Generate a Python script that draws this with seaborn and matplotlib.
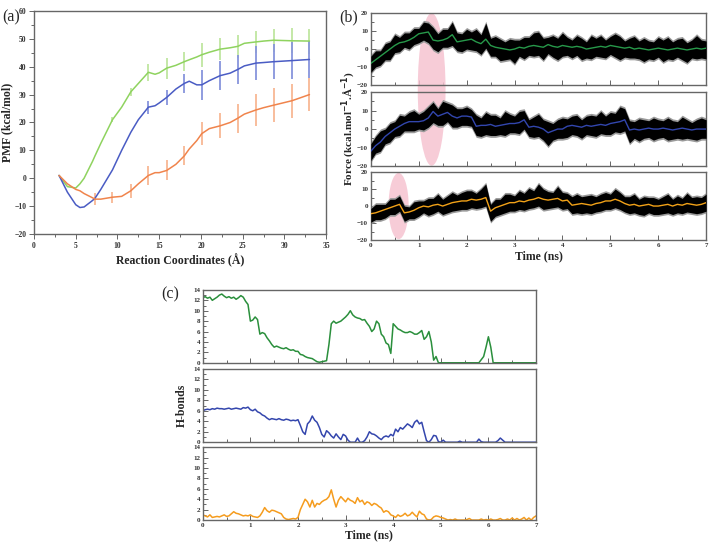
import numpy as np
import pandas as pd
import matplotlib
matplotlib.use("Agg")
import matplotlib.pyplot as plt
from matplotlib.patches import Ellipse
from matplotlib.ticker import MultipleLocator
import seaborn as sns

# ---- (a) PMF along the reaction coordinate
rc = [3, 4, 5, 5.5, 6, 7, 7.3, 8, 9.4, 10.5, 11.6, 12.5, 13.7, 14.5, 15, 15.9,
      17, 18, 18.6, 19.5, 20.1, 21, 22.3, 23.5, 24.4, 25.2, 26.6, 27.5, 28.7,
      30.9, 33]
pmf_green = [1, -3, -3.5, -2, 0, 6, 8, 12.5, 21, 25.5, 31, 34, 38, 37.3, 37.8,
             39.5, 40.5, 41.8, 42.5, 43.5, 44.3, 45.2, 46.3, 46.8, 47.3, 48.4,
             48.9, 49.2, 49.5, 49.3, 49.2]
pmf_blue = [1, -5, -9.5, -10.5, -10.3, -8, -7.2, -4, 3, 10, 16.5, 21, 25.5, 26,
            27, 29, 32, 34, 34.8, 33.5, 33.5, 35, 36.8, 37.7, 39, 40.3, 41.3,
            41.5, 41.8, 42.2, 42.6]
pmf_orange = [1, -2, -4, -4.5, -5.5, -7, -7.5, -7.5, -6.8, -6.5, -4.5, -2, 1, 2,
              2, 2.8, 5, 8, 10.5, 13.5, 16, 17.8, 18.8, 20, 21.5, 23, 24.5, 25.3,
              26.2, 27.8, 30]
nan = np.nan
err_green = [nan, nan, nan, nan, nan, nan, nan, nan, 1.0, nan, 1.5, nan, 3.0,
             nan, nan, 3.8, nan, 3.5, nan, nan, 4.3, nan, 4.0, nan, 4.0, nan,
             3.8, nan, 4.2, 4.5, 4.5]
err_blue = [nan, nan, nan, nan, nan, nan, nan, nan, nan, nan, nan, nan, 2.3,
            nan, nan, 2.8, nan, 3.5, nan, nan, 5.5, nan, 5.3, nan, 5.2, nan,
            6.0, nan, 6.3, 6.7, 6.8]
err_orange = [nan, nan, nan, nan, nan, nan, 2.2, nan, 2.0, nan, 2.5, nan, 3.3,
              nan, nan, 3.6, nan, 3.4, nan, nan, 4.0, nan, 4.5, nan, 5.2, nan,
              5.6, nan, 6.2, 6.1, 6.0]

# ---- (b) force traces, 0.1 ns grid (smoothed line, raw signal spread above / below)
force_green = [-8, -6, -4, -2, 0, 2, 3.5, 4, 5, 6.5,
               8.5, 9, 9.5, 5, 4.5, 5, 6, 8, 4, 4.5,
               5, 5.5, 4, 3, 5.5, 2, 1, 0.5, 0, -0.5,
               0, 1, 0.5, 1.5, 2, 1.5, 1, 2.5, 1.5, 1,
               2, 1.5, 1, 1.5, 1, 0, 0.5, 1, 1.5, 1,
               2, 1.5, 1, 0.5, 1, 0, 0.5, 0, -0.5, 0,
               0.5, 0, -0.5, 0, 0.5, 0, -0.5, 0, 0.5, 0,
               0.5]
up_green = [4, 5, 3, 5, 4, 6, 3, 5, 4, 5,
            3, 6, 5, 7, 4, 6, 5, 7, 5, 4,
            6, 4, 7, 5, 9, 4, 6, 5, 4, 6,
            5, 4, 6, 5, 7, 8, 5, 4, 6, 5,
            7, 5, 4, 6, 5, 4, 7, 5, 6, 4,
            5, 7, 6, 4, 5, 7, 4, 6, 5, 4,
            6, 5, 7, 4, 5, 6, 4, 5, 7, 5,
            4]
lo_green = [5, 4, 5, 4, 6, 4, 5, 3, 5, 4,
            5, 4, 6, 5, 6, 4, 5, 6, 5, 6,
            5, 6, 5, 6, 5, 6, 5, 7, 6, 5,
            8, 5, 6, 5, 6, 5, 7, 5, 6, 7,
            6, 5, 6, 5, 7, 5, 6, 5, 6, 6,
            5, 6, 7, 5, 6, 5, 6, 7, 5, 6,
            5, 7, 5, 6, 5, 6, 7, 5, 6, 5,
            6]
force_blue = [-12, -9, -7, -4, -2, 0, 1.5, 3, 4, 4,
              4, 4.5, 6, 9.5, 7, 8, 9, 7, 6, 7,
              7, 6.5, 1.5, 2, 2, 2.5, 1.5, 2, 2.5, 3,
              3, 3.5, 5, 1, 1.5, 1, 0, -2, -1, 0,
              0, 1.5, 2, 1.5, 1, 2, 1.5, 2, 2.5, 2,
              3, 3.5, 4, 5, -0.5, 0, -0.5, 0, 0.5, 0,
              0, 0.5, 0, -0.5, 0, 0.5, 0, -0.5, 0, 0,
              0]
up_blue = [4, 5, 6, 4, 5, 4, 6, 4, 5, 6,
           4, 5, 6, 5, 4, 7, 5, 6, 5, 4,
           5, 4, 6, 4, 7, 5, 6, 4, 7, 5,
           4, 6, 5, 4, 5, 7, 5, 6, 4, 5,
           6, 4, 5, 6, 4, 5, 6, 5, 7, 5,
           6, 5, 8, 6, 5, 4, 6, 5, 4, 6,
           5, 4, 6, 5, 4, 6, 5, 4, 5, 6,
           5]
lo_blue = [5, 4, 5, 4, 5, 4, 5, 4, 5, 5,
           4, 5, 5, 6, 5, 6, 5, 6, 5, 5,
           5, 5, 5, 6, 5, 6, 5, 5, 6, 5,
           5, 6, 5, 5, 6, 5, 6, 7, 5, 5,
           5, 6, 5, 5, 6, 5, 5, 6, 5, 5,
           6, 5, 6, 6, 7, 5, 6, 5, 5, 6,
           5, 5, 6, 5, 5, 6, 5, 5, 6, 5,
           5]
force_orange = [-4.5, -4, -3, -2, -1, 0, 1, -4, -3.5, -2.5,
                -1, 0, -0.5, 0.5, 1, 0, 1, 2, 2.5, 3,
                3, 4, 3.5, 4, 5, -3, -1, 0, 1, 2,
                2, 3, 2.5, 3.5, 4, 5, 4, 3.5, 4, 4.5,
                3, 3.5, 0.5, 1, 1.5, 1, 0.5, 1.5, 2, 3,
                3, 4, 3, 1.5, 0.5, 1, 0, 0.5, 1, 0,
                0, 0.5, 1, 0, 1, 0.5, 1.5, 1, 0.5, 1,
                2]
up_orange = [3, 5, 4, 3, 5, 4, 5, 4, 3, 5,
             4, 3, 5, 4, 6, 4, 5, 6, 4, 5,
             6, 5, 4, 6, 8, 4, 5, 4, 6, 5,
             4, 6, 5, 7, 5, 8, 6, 5, 4, 7,
             5, 4, 5, 6, 4, 5, 6, 4, 5, 5,
             4, 6, 5, 4, 5, 6, 4, 5, 4, 5,
             4, 5, 6, 4, 5, 4, 6, 4, 5, 4,
             5]
lo_orange = [5, 4, 5, 5, 4, 5, 4, 5, 4, 5,
             5, 4, 5, 5, 4, 5, 5, 5, 5, 5,
             5, 5, 5, 5, 5, 6, 5, 5, 5, 5,
             5, 5, 5, 5, 5, 5, 6, 5, 5, 5,
             5, 5, 5, 5, 6, 5, 5, 5, 5, 5,
             5, 5, 5, 5, 5, 5, 5, 6, 5, 5,
             5, 5, 5, 5, 5, 5, 5, 5, 5, 5,
             5]

# ---- (c) H-bond counts, 0.05 ns grid
hb_green = [12.5, 12.7, 12.4, 12.6, 12.0, 12.3, 12.6, 13.0, 13.2, 12.8, 12.5, 12.7, 12.4, 12.6, 12.2, 12.5, 12.9, 12.6, 11.8, 11.2,
            8.0, 8.2, 8.8, 8.3, 5.5, 5.8, 5.6, 4.8, 4.2, 3.5, 3.0, 3.2, 3.0, 2.8, 2.7, 2.9, 2.6, 2.4, 2.5, 2.2,
            2.2, 1.6, 1.5, 1.2, 1.0, 0.9, 0.8, 0.5, 0.2, 0.1, 0.2, 0.3, 0.4, 3.5, 7.5, 8.0, 7.6, 7.8, 8.0, 8.4,
            8.8, 9.3, 10.0, 9.2, 8.8, 8.6, 8.5, 8.2, 8.3, 7.6, 7.0, 6.0, 6.5, 8.0, 7.5, 5.5, 5.0, 3.8, 3.5, 1.8,
            7.5, 7.0, 6.5, 6.3, 6.0, 5.8, 5.8, 6.0, 5.8, 5.5, 5.5, 5.8, 6.2, 4.5, 5.0, 6.0, 4.0, 0.5, 1.2, 0.0,
            0.0, 0.0, 0.0, 0.0, 0.0, 0.0, 0.0, 0.0, 0.0, 0.0, 0.0, 0.0, 0.0, 0.0, 0.0, 0.0, 0.0, 0.6, 1.2, 3.0,
            5.0, 3.0, 0.0, 0.0, 0.0, 0.0, 0.0, 0.0, 0.0, 0.0, 0.0, 0.0, 0.0, 0.0, 0.0, 0.0, 0.0, 0.0, 0.0, 0.0,
            0.0]
hb_blue = [6.0, 6.2, 6.3, 6.2, 6.4, 6.3, 6.5, 6.4, 6.4, 6.3, 6.4, 6.5, 6.3, 6.4, 6.5, 6.4, 6.3, 6.6, 6.5, 6.7,
           6.2, 6.0, 6.3, 5.8, 5.6, 5.2, 5.0, 4.6, 4.3, 4.5, 4.4, 4.3, 4.5, 4.3, 4.2, 4.4, 4.3, 4.1, 4.2, 4.1,
           4.3, 3.2, 2.0, 1.5, 3.5, 4.0, 5.0, 4.2, 3.8, 2.8, 1.5, 1.0, 2.2, 1.8, 1.2, 0.8, 1.6, 1.0, 0.5, 1.5,
           1.2, 0.4, 0.0, 0.0, 0.0, 0.8, 0.0, 0.0, 0.3, 1.0, 2.0, 1.6, 1.5, 1.2, 0.8, 0.5, 1.0, 1.2, 1.0, 1.5,
           1.2, 2.5, 2.0, 2.8, 2.5, 3.0, 3.5, 3.2, 2.8, 3.8, 4.2, 3.5, 3.8, 2.0, 0.3, 0.0, 0.5, 1.3, 1.2, 0.1,
           0.0, 0.4, 0.0, 0.0, 0.0, 0.0, 0.0, 0.0, 0.2, 0.0, 0.0, 0.0, 0.0, 0.0, 0.0, 0.0, 0.6, 0.1, 0.0, 0.0,
           0.0, 0.0, 0.0, 0.0, 0.3, 0.8, 0.4, 0.0, 0.0, 0.0, 0.0, 0.0, 0.0, 0.0, 0.0, 0.0, 0.0, 0.0, 0.0, 0.0,
           0.0]
hb_orange = [1.0, 0.8, 0.6, 1.0, 0.5, 0.6, 0.7, 0.6, 0.8, 1.0, 0.7, 0.8, 1.2, 1.6, 1.3, 1.2, 1.0, 0.8, 0.9, 0.8,
             1.0, 0.7, 0.6, 0.5, 0.8, 1.5, 2.4, 1.8, 1.5, 1.9, 1.8, 1.6, 1.4, 1.2, 0.5, 0.2, 0.1, 0.2, 0.3, 0.2,
             0.5, 2.0, 3.0, 4.0, 3.5, 2.5, 3.8, 2.5, 3.2, 3.0, 3.5, 3.8, 4.0, 4.5, 5.8, 4.0, 2.5, 3.8, 4.5, 4.0,
             3.5, 4.2, 3.8, 3.6, 3.2, 4.3, 3.5, 3.8, 3.0, 3.5, 3.3, 2.8, 3.2, 3.0, 2.6, 2.3, 1.5, 1.8, 1.6, 1.0,
             0.8, 0.5, 1.0, 0.7, 0.9, 1.3, 0.8, 1.0, 1.5, 1.0, 0.6, 1.7, 1.2, 1.0, 0.2, 0.0, 0.1, 0.6, 0.8, 0.7,
             0.5, 0.4, 0.2, 0.0, 0.1, 0.0, 0.2, 0.0, 0.0, 0.0, 0.0, 0.1, 0.3, 0.0, 0.0, 0.0, 0.0, 0.2, 0.0, 0.1,
             0.0, 0.2, 0.0, 0.0, 0.1, 0.3, 0.0, 0.0, 0.2, 0.0, 0.4, 0.0, 0.3, 0.0, 0.2, 0.5, 0.0, 0.4, 0.0, 0.5,
             0.8]

t_force = np.round(np.arange(len(force_green)) * 0.1, 2)
t_hb = np.round(np.arange(len(hb_green)) * 0.05, 2)

sns.set_theme(style="ticks")
plt.rcParams["font.family"] = ["Liberation Serif", "DejaVu Serif"]
plt.rcParams["mathtext.default"] = "bf"
plt.rcParams["axes.edgecolor"] = "#666666"
plt.rcParams["axes.linewidth"] = 1.0

fig = plt.figure(figsize=(7.09, 5.48), dpi=100)

LABEL_FS = 8.5


def style_ticks(ax, direction, size=5.5):
    ax.tick_params(which="both", direction=direction, color="#666666", width=0.7,
                   labelsize=size, labelcolor="#333333", pad=2)
    ax.tick_params(which="major", length=3.5)
    ax.tick_params(which="minor", length=2)
    for lab in ax.get_xticklabels() + ax.get_yticklabels():
        lab.set_fontweight("bold")


# ---------------- (a)
ax_a = fig.add_axes([0.048, 0.573, 0.412, 0.407])
pmf_df = pd.DataFrame({"rc": rc * 3,
                       "pmf": pmf_green + pmf_blue + pmf_orange,
                       "sys": ["g"] * len(rc) + ["b"] * len(rc) + ["o"] * len(rc)})
line_cols = {"g": "#8fd35f", "b": "#4a5cc4", "o": "#f0844c"}
bar_cols = {"g": "#bfe6a0", "b": "#8794dc", "o": "#f8b894"}
errs = {"g": err_green, "b": err_blue, "o": err_orange}
pmfs = {"g": pmf_green, "b": pmf_blue, "o": pmf_orange}
for key in ["g", "b", "o"]:
    ax_a.errorbar(rc, pmfs[key], yerr=errs[key], fmt="none", ecolor=bar_cols[key],
                  elinewidth=1.3, capsize=0, zorder=1)
sns.lineplot(data=pmf_df, x="rc", y="pmf", hue="sys", palette=line_cols,
             estimator=None, sort=False, linewidth=1.1, legend=False, ax=ax_a, zorder=2)
ax_a.set_xlim(0, 35)
ax_a.set_ylim(-20, 60)
ax_a.xaxis.set_major_locator(MultipleLocator(5))
ax_a.xaxis.set_minor_locator(MultipleLocator(2.5))
ax_a.yaxis.set_major_locator(MultipleLocator(10))
ax_a.yaxis.set_minor_locator(MultipleLocator(5))
style_ticks(ax_a, "out")
ax_a.set_xlabel("Reaction Coordinates (Å)", fontsize=LABEL_FS, fontweight="bold", labelpad=3)
ax_a.set_ylabel("PMF (kcal/mol)", fontsize=LABEL_FS, fontweight="bold")
ax_a.yaxis.set_label_coords(-0.072, 0.5)
fig.text(0.003, 0.982, "(a)", fontsize=11.5, va="top")

# ---------------- (b)
b_rows = [(0.845, 0.131), (0.697, 0.135), (0.562, 0.124)]
b_data = [(force_green, up_green, lo_green, "#27994a"),
          (force_blue, up_blue, lo_blue, "#3246ae"),
          (force_orange, up_orange, lo_orange, "#f2a218")]
b_axes = []
for (bottom, height), (vals, up, lo, col) in zip(b_rows, b_data):
    ax = fig.add_axes([0.523, bottom, 0.473, height])
    ax.set_facecolor("none")
    vals = np.array(vals, dtype=float)
    up = np.array(up, dtype=float)
    lo = np.array(lo, dtype=float)
    ax.fill_between(t_force, vals - lo - 1.0, vals + up + 1.0,
                    color="#9a9a9a", lw=0, zorder=2)
    ax.fill_between(t_force, vals - lo, vals + up,
                    color="black", lw=0, zorder=3)
    sns.lineplot(x=t_force, y=vals, color=col, linewidth=1.0, ax=ax, zorder=4)
    ax.set_xlim(0, 7)
    ax.set_ylim(-20, 20)
    ax.xaxis.set_major_locator(MultipleLocator(1))
    ax.xaxis.set_minor_locator(MultipleLocator(0.5))
    ax.yaxis.set_major_locator(MultipleLocator(10))
    ax.yaxis.set_minor_locator(MultipleLocator(5))
    style_ticks(ax, "in", size=5)
    b_axes.append(ax)
for ax in b_axes[:2]:
    ax.tick_params(labelbottom=False)

# highlight ellipses: (axis, centre time, centre force, width, height)
highlights = [(0, 1.27, -22.5, 0.58, 85), (2, 0.58, 0, 0.42, 39)]
for idx, cx, cy, w, h in highlights:
    b_axes[idx].add_patch(Ellipse((cx, cy), w, h, facecolor="#f6c3d1",
                                  edgecolor="none", alpha=0.85, zorder=1, clip_on=False))

b_axes[2].set_xlabel("Time (ns)", fontsize=LABEL_FS, fontweight="bold", labelpad=2)
fig.text(0.492, 0.765, r"Force (kcal.mol$^{-1}$.Å$^{-1}$)", rotation=90,
         fontsize=8, fontweight="bold", ha="center", va="center")
fig.text(0.479, 0.982, "(b)", fontsize=11.5, va="top")

# ---------------- (c)
c_rows = [(0.338, 0.133), (0.193, 0.134), (0.051, 0.133)]
c_data = [(hb_green, "#2a8f3c"), (hb_blue, "#3446ad"), (hb_orange, "#f59c1e")]
c_axes = []
for (bottom, height), (vals, col) in zip(c_rows, c_data):
    ax = fig.add_axes([0.286, bottom, 0.470, height])
    sns.lineplot(x=t_hb, y=vals, color=col, linewidth=1.1, ax=ax)
    ax.set_xlim(0, 7)
    ax.set_ylim(0, 14)
    ax.xaxis.set_major_locator(MultipleLocator(1))
    ax.xaxis.set_minor_locator(MultipleLocator(0.5))
    ax.yaxis.set_major_locator(MultipleLocator(2))
    ax.yaxis.set_minor_locator(MultipleLocator(1))
    style_ticks(ax, "in", size=5)
    c_axes.append(ax)
for ax in c_axes[:2]:
    ax.tick_params(labelbottom=False)
c_axes[2].set_xlabel("Time (ns)", fontsize=LABEL_FS, fontweight="bold", labelpad=1)
c_axes[1].set_ylabel("H-bonds", fontsize=LABEL_FS, fontweight="bold", labelpad=4)
fig.text(0.228, 0.478, "(c)", fontsize=11.5, va="top")

fig.savefig("out.png", dpi=100)
